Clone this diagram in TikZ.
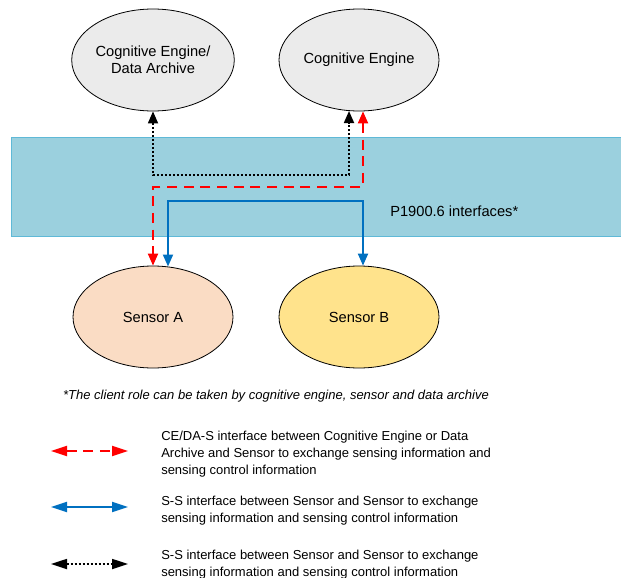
\documentclass[tikz,border=0pt]{standalone}
\usepackage{fontspec}
\setmainfont{Liberation Sans}
\usetikzlibrary{shapes.geometric,arrows.meta,calc}
\definecolor{cegray}{RGB}{235,235,235}
\definecolor{bandfill}{RGB}{155,208,222}
\definecolor{bandline}{RGB}{95,185,215}
\definecolor{peach}{RGB}{250,220,196}
\definecolor{sunny}{RGB}{255,227,140}
\definecolor{ifred}{RGB}{255,0,0}
\definecolor{ifblue}{RGB}{0,112,192}
\begin{document}
\begin{tikzpicture}[x=0.75pt,y=-0.75pt,
  font=\fontsize{11pt}{12.75pt}\selectfont,
  ell/.style={ellipse,draw=black,line width=0.6pt,minimum width=120pt,minimum height=76.5pt,inner sep=0pt,align=center},
  arrA/.style={{Triangle[length=9pt,width=7.5pt]}-{Triangle[length=9pt,width=7.5pt]}},
  arrL/.style={{Triangle[length=12pt,width=7.5pt]}-{Triangle[length=12pt,width=7.5pt]}},
  redln/.style={draw=ifred,line width=1.5pt,dash pattern=on 7.5pt off 5pt},
  blueln/.style={draw=ifblue,line width=1.5pt},
  blackln/.style={draw=black,line width=1.3pt,dash pattern=on 1.5pt off 1.5pt},
  smalltxt/.style={font=\fontsize{9.75pt}{12.75pt}\selectfont},
  legtext/.style={smalltxt,anchor=base west,align=left,inner sep=0pt}]
\useasboundingbox (0,0) rectangle (621,578);
% band
\node[draw=bandline,fill=bandfill,line width=0.8pt,minimum width=459pt,minimum height=74.25pt,inner sep=0pt,anchor=north west] (band) at (11,137) {};
\node[anchor=west,inner sep=0pt] (bandlabel) at (390,211) {P1900.6 interfaces*};
% ellipses
\node[ell,fill=cegray] (cda) at (153,60) {Cognitive Engine/\\Data Archive};
\node[ell,fill=cegray] (ce) at (359,60) {Cognitive Engine};
\node[ell,fill=peach] (sa) at (153,317) {Sensor A};
\node[ell,fill=sunny] (sb) at (359,317) {Sensor B};
% connector end points and levels
\coordinate (ceblk) at ($(ce.south)+(-10,-0.4)$);
\coordinate (cered) at ($(ce.south)+(4,0)$);
\coordinate (sablu) at ($(sa.north)+(15,0.9)$);
\coordinate (sbblu) at ($(sb.north)+(4,0)$);
\coordinate (hblk) at (0,175);
\coordinate (hred) at (0,187);
\coordinate (hblu) at (0,201);
% connectors
\draw[blackln,arrA] (cda.south) -- (cda.south |- hblk) -| (ceblk);
\draw[redln,arrA] (cered) -- (cered |- hred) -| (sa.north);
\draw[blueln,arrA] (sablu) -- (sablu |- hblu) -| (sbblu);
% footnote
\node[smalltxt,inner sep=0pt] (foot) at (276,396) {\itshape *The client role can be taken by cognitive engine, sensor and data archive};
% legend
\coordinate (l1a) at (51,451); \coordinate (l1b) at (128,451);
\coordinate (l2a) at (51,507); \coordinate (l2b) at (128,507);
\coordinate (l3a) at (51,564); \coordinate (l3b) at (128,564);
\draw[redln,arrL] (l1a) -- (l1b);
\draw[blueln,arrL] (l2a) -- (l2b);
\draw[blackln,arrL] (l3a) -- (l3b);
\node[legtext] (t1) at (161,474) {CE/DA-S interface between Cognitive Engine or Data\\Archive and Sensor to exchange sensing information and\\sensing control information};
\node[legtext] (t2) at (161,522) {S-S interface between Sensor and Sensor to exchange\\sensing information and sensing control information};
\node[legtext] (t3) at (161,576.5) {S-S interface between Sensor and Sensor to exchange\\sensing information and sensing control information};
\end{tikzpicture}
\end{document}
